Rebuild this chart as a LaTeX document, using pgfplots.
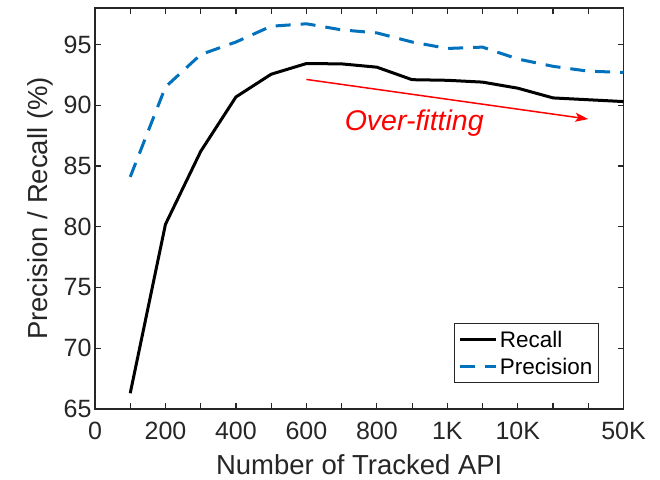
\documentclass[border=0pt]{standalone}
\usepackage{fontspec}
\setmainfont{Liberation Sans}
\usepackage{pgfplots}
\pgfplotsset{compat=1.18}
\usetikzlibrary{arrows.meta}

\definecolor{mblue}{HTML}{0072BD}
\definecolor{axgray}{HTML}{262626}

% x = position on the (non-linear) tick scale: 1..9 -> 100..900, 10 -> 1K, 12 -> 10K, 15 -> 50K
\pgfplotstableread{
idx recall precision
1  66.3  84.1
2  80.2  91.5
3  86.2  94.17
4  90.68 95.2
5  92.55 96.5
6  93.43 96.7
7  93.4  96.2
8  93.13 95.95
9  92.1  95.2
10 92.05 94.67
11 91.9  94.78
12 91.4  93.8
13 90.6  93.2
14 90.45 92.8
15 90.3  92.7
}\apidata

\begin{document}
\begin{tikzpicture}
\begin{axis}[
  scale only axis,
  width=528.5pt, height=401pt,
  xmin=0, xmax=15, ymin=65, ymax=98,
  xtick={0,...,15},
  xticklabels={0,,200,,400,,600,,800,,1K,,10K,,,50K},
  ytick={65,70,...,95},
  tick align=inside,
  major tick length=6pt,
  axis line style={axgray, line width=1.2pt},
  every tick/.style={axgray, line width=1.2pt},
  ticklabel style={font=\fontsize{25}{30}\selectfont, text=axgray},
  xticklabel style={yshift=-10pt},
  /pgf/number format/assume math mode=true,
  xlabel={Number of Tracked API},
  ylabel={Precision / Recall (\%)},
  label style={font=\fontsize{27.5}{33}\selectfont, text=axgray},
  xlabel style={at={(axis description cs:0.5,-0.1621)}, anchor=base},
  ylabel style={at={(axis description cs:-0.0908,0.5)}, anchor=base},
  legend cell align=left,
  legend image code/.code={\draw[#1] (0pt,0pt) -- (36pt,0pt);},
  legend style={at={(axis description cs:0.9536,0.0648)}, anchor=south east,
                draw=axgray, line width=1pt, fill=white,
                font=\fontsize{22.5}{27}\selectfont,
                inner xsep=4pt, inner ysep=5pt, row sep=5pt},
]
\addplot[black, line width=3pt, line join=round] table[x=idx, y=recall] {\apidata};
\addlegendentry{Recall}
\addplot[mblue, line width=3pt, dash pattern=on 15pt off 10pt] table[x=idx, y=precision] {\apidata};
\addlegendentry{Precision}

\draw[red, line width=1.5pt, -{Stealth[length=13pt, width=9pt, inset=3pt]}]
  (axis cs:6,92.12) -- (axis cs:14,88.86);
\node[red, font=\fontsize{28.5}{34}\selectfont\itshape, anchor=base]
  at (axis cs:9.06,87.95) {Over-fitting};
\end{axis}
\pgfresetboundingbox
\path[use as bounding box] ([shift={(-95pt,-70pt)}]current axis.south west)
  rectangle ([shift={(36.5pt,8pt)}]current axis.north east);
\end{tikzpicture}
\end{document}
